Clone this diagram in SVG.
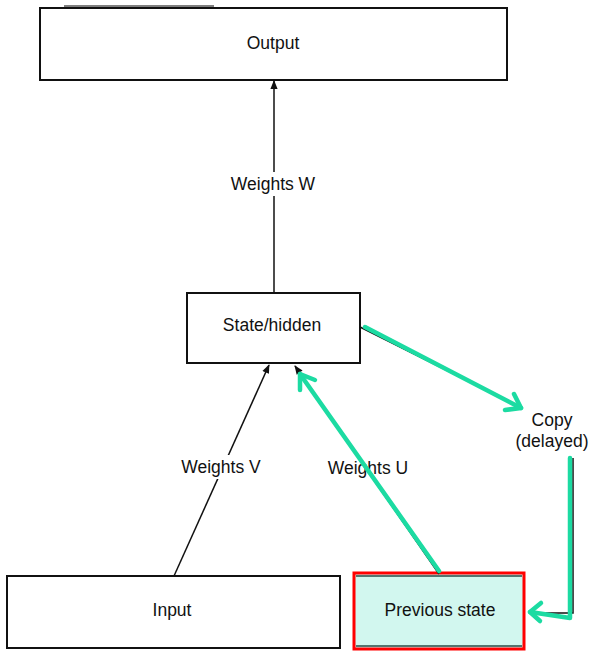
<svg xmlns="http://www.w3.org/2000/svg" width="597" height="659" viewBox="0 0 597 659">
<defs>
<style>
.box{fill:#fff;stroke:#111;stroke-width:2}
.t{font-family:"Liberation Sans",Arial,sans-serif;font-size:17.5px;fill:#111;text-anchor:middle}
.lbl{fill:#fff}
.bl{stroke:#111;stroke-width:1.5;fill:none}
.gr{stroke:#1cdba2;stroke-width:4.5;fill:none;stroke-linecap:round;stroke-linejoin:round}
</style>
<marker id="ah" viewBox="0 0 10 10" refX="9" refY="5" markerWidth="10" markerHeight="9" orient="auto" markerUnits="userSpaceOnUse">
<path d="M0,1 L10,5 L0,9 z" fill="#111"/>
</marker>
</defs>
<rect width="597" height="659" fill="#fff"/>
<line x1="64" y1="6" x2="214" y2="6" stroke="#555" stroke-width="1.5"/>

<g id="output">
<rect class="box" x="40" y="8" width="467" height="72"/>
<text class="t" x="273" y="49">Output</text>
</g>
<g id="state">
<rect class="box" x="187" y="293" width="173" height="70"/>
<text class="t" x="272" y="331">State/hidden</text>
</g>
<g id="input">
<rect class="box" x="7" y="576" width="333" height="72"/>
<text class="t" x="172" y="616">Input</text>
</g>
<g id="copy">
<text class="t" x="552" y="426">Copy</text>
<text class="t" x="552" y="447">(delayed)</text>
</g>
<g id="previous">
<rect x="354" y="573" width="170" height="76" fill="#d2f7ef" stroke="#f00" stroke-width="3"/>
<line x1="356" y1="576" x2="522" y2="576" stroke="#2a4a44" stroke-width="1.5"/>
<line x1="356" y1="646" x2="522" y2="646" stroke="#2a4a44" stroke-width="1.5"/>
<text class="t" x="440" y="616" fill="#1a2a28">Previous state</text>
</g>

<g id="connectors">
<line class="bl" x1="274" y1="293" x2="274" y2="81" marker-end="url(#ah)"/>
<line class="bl" x1="174" y1="576" x2="269" y2="365" marker-end="url(#ah)"/>
<line class="bl" x1="439" y1="574" x2="295" y2="366" marker-end="url(#ah)"/>
<line class="bl" x1="360" y1="327" x2="518" y2="406"/>
<polyline class="bl" points="573,458 573,613 530,613"/>
<rect class="lbl" x="222" y="172" width="104" height="24"/>
<text class="t" x="273" y="190">Weights W</text>
<rect class="lbl" x="174" y="455" width="94" height="24"/>
<text class="t" x="221" y="473">Weights V</text>
<rect class="lbl" x="320" y="456" width="96" height="24"/>
<text class="t" x="368" y="474">Weights U</text>
<line class="gr" x1="439" y1="571" x2="300" y2="374"/>
<polyline class="gr" points="300,390 300,374 315,380"/>
<line class="gr" x1="365" y1="327" x2="521" y2="408"/>
<polyline class="gr" points="514,394 521,408 505,410"/>
<polyline class="gr" points="570,458 570,618 530,612"/>
<polyline class="gr" points="541,603 530,612 540,621"/>
</g>
</svg>
